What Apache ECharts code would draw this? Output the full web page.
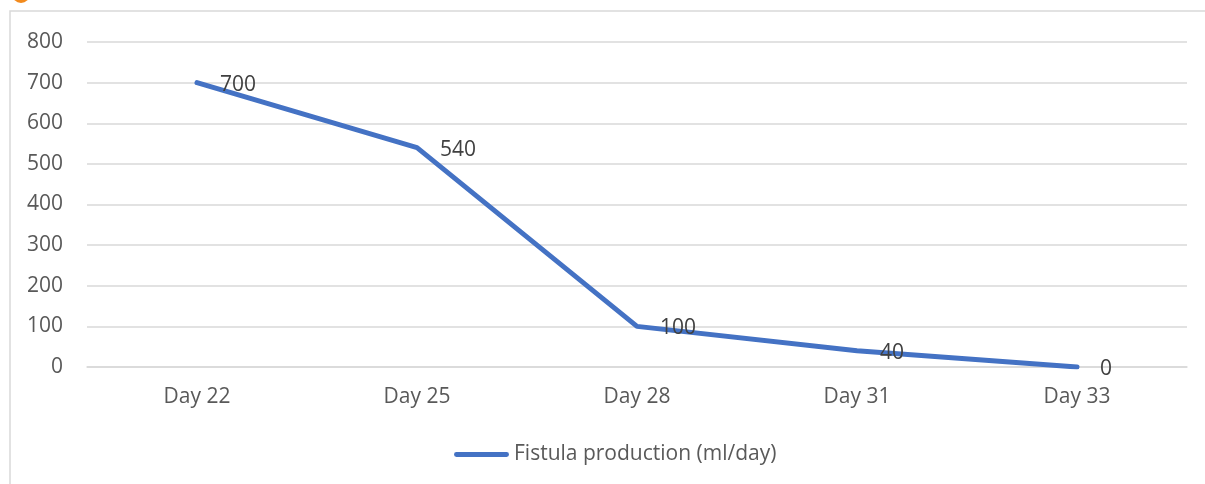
<!DOCTYPE html>
<html>
<head>
<meta charset="utf-8">
<script src="https://cdn.jsdelivr.net/npm/echarts@6/dist/echarts.min.js"></script>
<style>
  html, body { margin: 0; padding: 0; background: #fff; }
  #chart { width: 1205px; height: 484px; }
</style>
</head>
<body>
<div id="chart"></div>
<script>
// categories and values
var days = ['Day 22', 'Day 25', 'Day 28', 'Day 31', 'Day 33']
var fistula = [700, 540, 100, 40, 0]
var seriesName = 'Fistula production (ml/day)'

var myChart = echarts.init(document.getElementById('chart'))
var txt = '#595959'
var font = 'Open Sans'

var option = {
  animation: false,
  textStyle: { fontFamily: font },
  graphic: [
    // chart frame
    {
      type: 'rect',
      shape: { x: 10, y: 11, width: 1210, height: 490 },
      style: { fill: 'none', stroke: '#d9d9d9', lineWidth: 1.5 }
    },
    // orange mark cut off at top left
    {
      type: 'circle',
      shape: { cx: 21, cy: -6, r: 9 },
      style: { fill: '#f28a1d' }
    }
  ],
  grid: {
    left: 87,
    right: 18,
    top: 42,
    bottom: 117
  },
  legend: {
    bottom: 14,
    left: 449,
    itemWidth: 55,
    itemHeight: 5,
    itemGap: 5,
    textStyle: { color: txt, fontSize: 21, fontFamily: font },
    data: [{
      name: seriesName,
      icon: 'path://M2,0 L53,0 A2.5,2.5 0 0 1 53,5 L2,5 A2.5,2.5 0 0 1 2,0 Z',
      itemStyle: { color: '#4472c4', opacity: 1 }
    }]
  },
  xAxis: {
    type: 'category',
    data: days,
    boundaryGap: true,
    axisLine: { lineStyle: { color: '#d9d9d9', width: 1.5 } },
    axisTick: { show: false },
    axisLabel: { color: txt, fontSize: 21, margin: 20, fontFamily: font }
  },
  yAxis: {
    type: 'value',
    min: 0,
    max: 800,
    interval: 100,
    axisLine: { show: false },
    axisTick: { show: false },
    axisLabel: { color: txt, fontSize: 21, margin: 24, fontFamily: font },
    splitLine: { lineStyle: { color: '#d9d9d9', width: 1.5 } }
  },
  series: [
    {
      name: seriesName,
      type: 'line',
      data: fistula,
      showSymbol: true,
      symbol: 'circle',
      symbolSize: 2,
      lineStyle: { color: '#4472c4', width: 5, cap: 'round', join: 'round' },
      itemStyle: { color: '#4472c4' },
      label: {
        show: true,
        position: 'right',
        distance: 22,
        offset: [0, 2],
        color: '#404040',
        fontSize: 21,
        fontFamily: font
      }
    }
  ]
}
myChart.setOption(option)
</script>
</body>
</html>
